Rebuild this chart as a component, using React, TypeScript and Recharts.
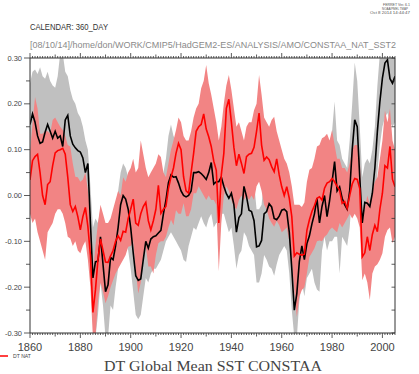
import React from 'react';
import { ComposedChart, Area, Line, XAxis, YAxis } from 'recharts';

const START_YEAR = 1860;

// Black line: DT (full forcing) mean
const blackDT = [
  0.155, 0.178, 0.160, 0.130, 0.114, 0.117, 0.138, 0.155, 0.140, 0.125,
  0.140, 0.125, 0.130, 0.107, 0.165, 0.175, 0.130, 0.112, 0.104, 0.098,
  0.095, 0.082, 0.050, 0.070, -0.060, -0.180, -0.145, -0.143, -0.090, -0.150,
  -0.210, -0.195, -0.135, -0.140, -0.110, -0.070, -0.020, 0.000, -0.008, -0.030,
  -0.070, -0.125, -0.175, -0.185, -0.182, -0.140, -0.100, -0.115, -0.095, -0.090,
  -0.088, -0.082, -0.076, -0.040, -0.010, 0.028, 0.045, 0.040, 0.041, 0.027,
  0.010, 0.000, -0.003, 0.000, 0.010, 0.050, 0.050, 0.052, 0.048, 0.042,
  0.035, 0.050, 0.072, 0.025, 0.030, 0.030, 0.040, 0.020, 0.004, -0.006,
  0.005, -0.020, -0.080, -0.048, -0.040, 0.020, -0.002, -0.032, -0.035, -0.055,
  -0.112, -0.110, -0.098, -0.040, -0.035, -0.018, -0.025, -0.050, -0.053, -0.045,
  -0.032, -0.030, -0.035, -0.080, -0.160, -0.250, -0.214, -0.144, -0.110, -0.140,
  -0.105, -0.088, -0.062, -0.040, -0.006, -0.060, -0.024, 0.000, -0.046, -0.012,
  0.030, 0.074, 0.010, 0.019, -0.006, -0.020, -0.030, 0.010, 0.100, 0.165,
  0.150, 0.040, -0.060, -0.015, -0.017, -0.024, 0.005, 0.060, 0.140, 0.205,
  0.256, 0.289, 0.296, 0.255, 0.245, 0.260,
];

// Red line: DT NAT mean
const redNAT = [
  0.034, 0.076, 0.085, 0.090, 0.050, 0.000, -0.020, 0.024, 0.030, 0.065,
  0.093, 0.098, 0.100, 0.103, 0.090, 0.040, -0.020, -0.035, -0.024, -0.046,
  -0.075, -0.046, -0.026, -0.068, -0.130, -0.255, -0.206, -0.140, -0.095, -0.120,
  -0.145, -0.146, -0.132, -0.120, -0.100, -0.088, -0.098, -0.078, -0.080, -0.050,
  -0.030, -0.008, -0.060, -0.065, -0.040, -0.024, -0.015, -0.055, -0.075, -0.055,
  -0.030, 0.022, -0.039, -0.030, -0.024, 0.015, 0.040, 0.060, 0.092, 0.114,
  0.100, 0.041, 0.010, 0.005, 0.050, 0.092, 0.140, 0.150, 0.155, 0.178,
  0.145, 0.128, 0.107, 0.075, 0.055, -0.060, 0.045, 0.092, 0.190, 0.210,
  0.160, 0.105, 0.065, 0.090, 0.070, 0.048, 0.085, 0.090, 0.092, 0.105,
  0.140, 0.180, 0.110, 0.077, 0.084, 0.078, 0.063, 0.052, 0.080, 0.045,
  0.019, 0.000, 0.019, -0.006, -0.046, -0.132, -0.125, -0.128, -0.130, -0.128,
  -0.076, -0.053, -0.035, -0.022, -0.006, -0.003, -0.010, 0.016, 0.027, 0.030,
  0.037, 0.030, 0.020, 0.012, -0.017, -0.013, -0.028, 0.000, 0.025, 0.037,
  0.035, 0.015, -0.134, -0.125, -0.090, -0.120, -0.085, -0.065, -0.079, -0.030,
  0.005, 0.065, 0.060, 0.107, 0.035, 0.019,
];

// Gray envelope (DT spread)
const grayHi = [
  0.245, 0.27, 0.275, 0.265, 0.28, 0.26, 0.255, 0.27, 0.25, 0.24,
  0.235, 0.26, 0.31, 0.31, 0.27, 0.26, 0.23, 0.21, 0.20, 0.18,
  0.17, 0.15, 0.12, 0.10, 0.02, -0.07, -0.05, -0.06, -0.03, -0.06,
  -0.11, -0.10, -0.06, -0.06, -0.03, 0.01, 0.05, 0.07, 0.06, 0.04,
  0.01, -0.04, -0.09, -0.10, -0.09, -0.06, -0.02, -0.03, -0.01, 0.00,
  0.00, 0.01, 0.02, 0.05, 0.08, 0.13, 0.155, 0.13, 0.12, 0.11,
  0.09, 0.08, 0.08, 0.08, 0.09, 0.13, 0.13, 0.13, 0.13, 0.12,
  0.11, 0.13, 0.15, 0.10, 0.11, 0.11, 0.12, 0.10, 0.08, 0.07,
  0.08, 0.06, 0.01, 0.03, 0.04, 0.10, 0.08, 0.05, 0.05, 0.03,
  -0.03, -0.03, -0.02, 0.04, 0.05, 0.065, 0.06, 0.03, 0.03, 0.04,
  0.06, 0.065, 0.05, 0.01, -0.08, -0.17, -0.13, -0.06, -0.03, -0.06,
  -0.02, 0.00, 0.03, 0.06, 0.10, 0.05, 0.08, 0.107, 0.06, 0.09,
  0.14, 0.205, 0.12, 0.11, 0.08, 0.07, 0.06, 0.12, 0.20, 0.29,
  0.25, 0.15, 0.04, 0.07, 0.08, 0.07, 0.10, 0.15, 0.24, 0.31,
  0.31, 0.31, 0.31, 0.31, 0.31, 0.31,
];
const grayLo = [
  0.06, 0.08, 0.07, 0.04, 0.03, 0.03, 0.05, 0.07, 0.05, 0.03,
  0.04, 0.02, 0.01, 0.00, 0.06, 0.08, 0.04, 0.03, 0.02, 0.01,
  0.01, 0.00, -0.03, -0.01, -0.14, -0.28, -0.31, -0.26, -0.19, -0.24,
  -0.31, -0.31, -0.24, -0.25, -0.20, -0.16, -0.11, -0.09, -0.10, -0.12,
  -0.16, -0.21, -0.26, -0.27, -0.26, -0.22, -0.18, -0.19, -0.17, -0.16,
  -0.16, -0.15, -0.14, -0.12, -0.10, -0.09, -0.08, -0.09, -0.10, -0.11,
  -0.12, -0.14, -0.145, -0.11, -0.09, -0.07, -0.075, -0.06, -0.045, -0.06,
  -0.07, -0.05, -0.04, -0.07, -0.06, -0.06, -0.04, -0.04, -0.06, -0.08,
  -0.07, -0.11, -0.16, -0.13, -0.12, -0.08, -0.09, -0.11, -0.12, -0.13,
  -0.19, -0.19, -0.17, -0.13, -0.14, -0.155, -0.16, -0.175, -0.15, -0.13,
  -0.12, -0.11, -0.12, -0.17, -0.25, -0.31, -0.31, -0.23, -0.19, -0.22,
  -0.18, -0.17, -0.16, -0.19, -0.205, -0.21, -0.12, -0.09, -0.12, -0.10,
  -0.10, -0.09, -0.09, -0.17, -0.09, -0.10, -0.11, -0.07, 0.01, 0.06,
  0.05, -0.05, -0.14, -0.09, -0.10, -0.10, -0.07, -0.02, 0.05, 0.11,
  0.15, 0.17, 0.18, 0.16, 0.15, 0.16,
];

// Red envelope (NAT spread)
const redHi = [
  0.092, 0.157, 0.215, 0.19, 0.135, 0.135, 0.14, 0.14, 0.135, 0.165,
  0.17, 0.16, 0.15, 0.143, 0.13, 0.11, 0.107, 0.07, 0.041, 0.04,
  0.03, 0.035, 0.05, 0.01, -0.04, -0.17, -0.11, -0.06, -0.02, -0.04,
  -0.06, -0.06, -0.05, -0.03, -0.01, 0.01, 0.00, 0.04, 0.03, 0.05,
  0.06, 0.08, 0.05, 0.06, 0.12, 0.09, 0.06, 0.04, 0.05, 0.06,
  0.07, 0.09, 0.084, 0.05, 0.04, 0.07, 0.10, 0.12, 0.143, 0.17,
  0.16, 0.13, 0.12, 0.12, 0.14, 0.17, 0.19, 0.20, 0.234, 0.25,
  0.285, 0.245, 0.22, 0.19, 0.16, 0.12, 0.15, 0.20, 0.24, 0.263,
  0.23, 0.19, 0.15, 0.16, 0.14, 0.12, 0.15, 0.16, 0.16, 0.186,
  0.20, 0.263, 0.22, 0.17, 0.16, 0.15, 0.165, 0.172, 0.14, 0.12,
  0.10, 0.08, 0.07, 0.05, 0.02, -0.02, -0.02, -0.02, -0.025, -0.015,
  0.03, 0.056, 0.06, 0.08, 0.107, 0.11, 0.125, 0.128, 0.135, 0.12,
  0.143, 0.11, 0.08, 0.08, 0.06, 0.06, 0.05, 0.07, 0.10, 0.11,
  0.11, 0.08, -0.04, -0.03, 0.00, -0.02, 0.01, 0.03, 0.04, 0.08,
  0.12, 0.186, 0.16, 0.19, 0.12, 0.10,
];
const redLo = [
  -0.04, -0.06, -0.05, -0.08, -0.10, -0.12, -0.14, -0.08, -0.07, -0.06,
  -0.04, -0.03, -0.03, -0.04, -0.06, -0.09, -0.094, -0.11, -0.10, -0.12,
  -0.126, -0.11, -0.10, -0.14, -0.20, -0.31, -0.31, -0.23, -0.19, -0.21,
  -0.235, -0.22, -0.20, -0.185, -0.17, -0.16, -0.15, -0.14, -0.13, -0.112,
  -0.11, -0.10, -0.163, -0.214, -0.19, -0.13, -0.11, -0.155, -0.155, -0.17,
  -0.13, -0.104, -0.10, -0.10, -0.09, -0.07, -0.053, -0.065, -0.032, -0.04,
  -0.04, -0.017, -0.045, -0.045, -0.03, 0.005, 0.005, 0.02, 0.01, 0.0,
  -0.01, 0.0, -0.01, -0.01, -0.02, -0.165, -0.06, 0.0, 0.02, 0.01,
  -0.01, -0.024, -0.03, -0.01, 0.0, -0.01, 0.0, -0.01, 0.0, -0.01,
  0.02, 0.03, 0.01, -0.02, -0.03, -0.05, -0.06, -0.068, -0.055, -0.065,
  -0.08, -0.075, -0.07, -0.10, -0.14, -0.206, -0.265, -0.22, -0.206, -0.20,
  -0.17, -0.134, -0.125, -0.115, -0.10, -0.098, -0.10, -0.09, -0.085, -0.075,
  -0.07, -0.075, -0.08, -0.06, -0.07, -0.06, -0.05, -0.04, -0.05, -0.04,
  -0.05, -0.07, -0.185, -0.17, -0.19, -0.228, -0.17, -0.155, -0.15, -0.14,
  -0.126, -0.09, -0.075, -0.07, -0.104, -0.09,
];

const years = blackDT.map((_, i) => START_YEAR + i);
const yTicks = [-0.3, -0.25, -0.2, -0.15, -0.1, -0.05, 0, 0.05, 0.1, 0.15, 0.2, 0.25, 0.3];

const data = years.map((year, i) => ({
  year,
  dt: blackDT[i],
  nat: redNAT[i],
  grayBand: [grayLo[i], grayHi[i]],
  redBand: [redLo[i], redHi[i]],
}));

const AXIS = '#333';
const LABEL = '#444';
const SANS = 'Liberation Sans, Arial, sans-serif';

const tickLen = (v: number) => (v % 20 === 0 ? 5 : v % 10 === 0 ? 3.5 : 2);

const BottomTick = (props: any) => {
  const { x, y, payload } = props;
  const v = payload.value;
  return (
    <g>
      <line x1={x} x2={x} y1={y} y2={y + tickLen(v)} stroke={AXIS} strokeWidth={0.8} />
      {v % 20 === 0 && (
        <text x={x} y={y + 18} textAnchor="middle" fontSize={11} fill={LABEL} fontFamily={SANS}>{v}</text>
      )}
    </g>
  );
};

const TopTick = (props: any) => {
  const { x, y, payload } = props;
  const v = payload.value;
  return <line x1={x} x2={x} y1={y} y2={y - tickLen(v)} stroke={AXIS} strokeWidth={0.8} />;
};

const isMajorY = (v: number) => Math.abs(Math.round(v * 100)) % 10 === 0;

const LeftTick = (props: any) => {
  const { x, y, payload } = props;
  const v = payload.value as number;
  const major = isMajorY(v);
  const raw = (Math.round(v * 100) / 100).toFixed(2);
  const label = raw === '-0.00' ? '0.00' : raw;
  return (
    <g>
      <line x1={x} x2={x - (major ? 6 : 4)} y1={y} y2={y} stroke={AXIS} strokeWidth={0.8} />
      {major && (
        <text x={x - 8} y={y + 2.6} textAnchor="end" fontSize={7.5} fill={LABEL} fontFamily={SANS}>{label}</text>
      )}
    </g>
  );
};

const RightTick = (props: any) => {
  const { x, y } = props;
  return <line x1={x} x2={x - 3.5} y1={y} y2={y} stroke={AXIS} strokeWidth={0.8} />;
};

export default function App() {
  return (
    <div style={{ position: 'absolute', left: 0, top: 0, width: 419, height: 374, background: '#fff', overflow: 'hidden' }}>
      <ComposedChart
        width={419}
        height={374}
        data={data}
        margin={{ top: 57, right: 23, bottom: 40, left: 29 }}
      >
        <XAxis
          dataKey="year"
          type="number"
          domain={[1860, 2005]}
          allowDataOverflow
          ticks={years}
          interval={0}
          tickSize={0}
          tickMargin={0}
          height={1}
          tick={BottomTick}
          axisLine={{ stroke: AXIS }}
        />
        <XAxis
          xAxisId="top"
          orientation="top"
          dataKey="year"
          type="number"
          domain={[1860, 2005]}
          allowDataOverflow
          ticks={years}
          interval={0}
          tickSize={0}
          tickMargin={0}
          height={1}
          tick={TopTick}
          axisLine={{ stroke: AXIS }}
        />
        <YAxis
          type="number"
          domain={[-0.3, 0.3]}
          allowDataOverflow
          ticks={yTicks}
          interval={0}
          tickSize={0}
          tickMargin={0}
          width={1}
          tick={LeftTick}
          axisLine={{ stroke: AXIS }}
        />
        <YAxis
          yAxisId="right"
          orientation="right"
          type="number"
          domain={[-0.3, 0.3]}
          allowDataOverflow
          ticks={yTicks}
          interval={0}
          tickSize={0}
          tickMargin={0}
          width={1}
          tick={RightTick}
          axisLine={{ stroke: AXIS }}
        />
        <Area
          dataKey="grayBand"
          stroke="none"
          fill="#c0c0c0"
          fillOpacity={1}
          isAnimationActive={false}
          dot={false}
          activeDot={false}
        />
        <Area
          dataKey="redBand"
          stroke="none"
          fill="#f28484"
          fillOpacity={1}
          isAnimationActive={false}
          dot={false}
          activeDot={false}
        />
        <Line
          dataKey="dt"
          stroke="#000"
          strokeWidth={1.6}
          dot={false}
          activeDot={false}
          isAnimationActive={false}
        />
        <Line
          dataKey="nat"
          stroke="#ff0000"
          strokeWidth={1.6}
          dot={false}
          activeDot={false}
          isAnimationActive={false}
        />
      </ComposedChart>
      <svg width={419} height={374} style={{ position: 'absolute', left: 0, top: 0, pointerEvents: 'none' }}>
        <text x={383} y={6} fontSize={4} fill="#555" fontFamily={SANS} textLength={27} lengthAdjust="spacingAndGlyphs">FERRET Ver. 6.1</text>
        <text x={382} y={10} fontSize={4} fill="#555" fontFamily={SANS} textLength={26} lengthAdjust="spacingAndGlyphs">NOAA/PMEL TMAP</text>
        <text x={370} y={14} fontSize={4} fill="#555" fontFamily={SANS} textLength={40} lengthAdjust="spacingAndGlyphs">Oct  8 2014 14:44:47</text>
        <text x={30} y={30} fontSize={9.5} fill="#333" fontFamily={SANS} textLength={78} lengthAdjust="spacingAndGlyphs">CALENDAR: 360_DAY</text>
        <text x={30} y={48} fontSize={9} fill="#8a8a8a" fontFamily={SANS} textLength={366} lengthAdjust="spacingAndGlyphs">[08/10/14]/home/don/WORK/CMIP5/HadGEM2-ES/ANALYSIS/AMO/CONSTAA_NAT_SST2</text>
        <line x1={0} x2={8} y1={356} y2={356} stroke="#ff0000" strokeWidth={1.5} />
        <text x={13} y={357.5} fontSize={5} fill="#444" fontFamily={SANS} textLength={18} lengthAdjust="spacingAndGlyphs">DT NAT</text>
        <text x={104} y={371} fontSize={14.5} fill="#444" fontFamily="Liberation Serif, Times New Roman, serif" textLength={218} lengthAdjust="spacingAndGlyphs">DT Global Mean SST CONSTAA</text>
      </svg>
    </div>
  );
}
